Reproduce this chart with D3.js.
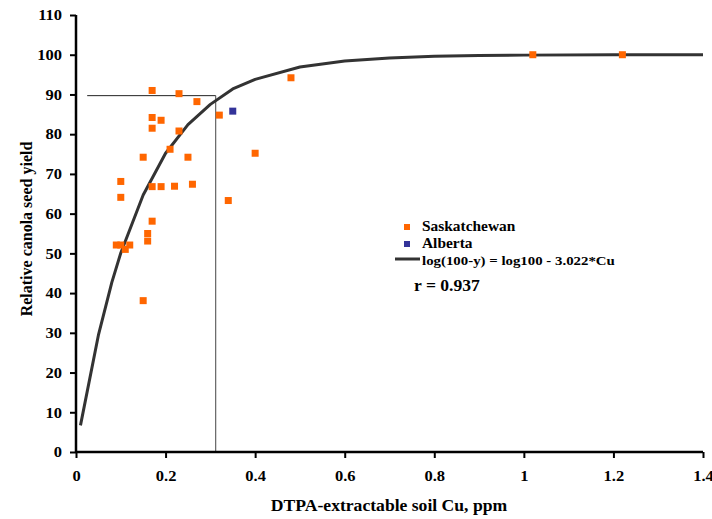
<!DOCTYPE html>
<html>
<head>
<meta charset="utf-8">
<script src="https://cdn.jsdelivr.net/npm/d3@7"></script>
<style>
  html, body { margin: 0; padding: 0; background: #fff; }
  svg text { font-family: "Liberation Serif", "Times New Roman", serif; font-weight: bold; fill: #000; }
</style>
</head>
<body>
<div id="chart"></div>
<script>
// Saskatchewan field sites: DTPA Cu (ppm) and relative yield (%)
const saskCu = [0.17, 0.23, 0.27, 0.48, 0.32, 0.17, 0.19, 0.17, 0.23, 0.21, 0.15, 0.25, 0.40,
                0.10, 0.17, 0.19, 0.22, 0.26, 0.10, 0.34, 0.17, 0.16, 0.16, 0.09, 0.10, 0.12, 0.11,
                0.15, 1.02, 1.22];
const saskYield = [91.0, 90.2, 88.2, 94.2, 84.8, 84.2, 83.5, 81.5, 80.8, 76.2, 74.2, 74.2, 75.2,
                   68.1, 66.8, 66.8, 66.9, 67.4, 64.1, 63.3, 58.1, 55.0, 53.1, 52.1, 52.1, 52.1, 51.0,
                   38.1, 100.0, 100.0];
// Alberta site
const albertaCu = [0.35];
const albertaYield = [85.8];
// Fitted curve log(100-y) = log100 - 3.022*Cu, evaluated at the plotted vertices
const fitCu = [0.01, 0.05, 0.08, 0.10, 0.15, 0.20, 0.25, 0.30, 0.35, 0.40, 0.50, 0.60, 0.70, 0.80, 0.90, 1.00, 1.20, 1.40];
const fitYield = [6.7, 29.4, 42.7, 50.1, 64.7, 75.2, 82.4, 87.5, 91.4, 93.8, 96.9, 98.4, 99.2, 99.6, 99.8, 99.9, 100.0, 100.0];
// Critical level guide lines
const criticalCu = 0.312;
const criticalYield = 89.7;
const guideStartCu = 0.025;
// Axis ticks
const xTicks = [0, 0.2, 0.4, 0.6, 0.8, 1.0, 1.2, 1.4];
const yTicks = [0, 10, 20, 30, 40, 50, 60, 70, 80, 90, 100, 110];
const legendLabels = ["Saskatchewan", "Alberta", "log(100-y) = log100 - 3.022*Cu"];
const rLabel = "r = 0.937";

const W = 712, H = 519;
const margin = { left: 76, right: 9, top: 15, bottom: 67 };
const widen = 1.1; // horizontal stretch applied to upright text
const svg = d3.select("#chart").append("svg").attr("width", W).attr("height", H);

const x = d3.scaleLinear().domain([0, 1.4]).range([margin.left, W - margin.right]);
const y = d3.scaleLinear().domain([0, 110]).range([H - margin.bottom, margin.top]);

const orange = "#ff6600", blue = "#333399";

function stretch(sel) {
  sel.each(function () {
    const len = this.getComputedTextLength();
    d3.select(this).attr("textLength", len * widen).attr("lengthAdjust", "spacingAndGlyphs");
  });
}

// Guide lines for the critical level
svg.append("line")
  .attr("x1", x(guideStartCu)).attr("x2", x(criticalCu))
  .attr("y1", y(criticalYield)).attr("y2", y(criticalYield))
  .attr("stroke", "#222").attr("stroke-width", 1);
svg.append("line")
  .attr("x1", x(criticalCu)).attr("x2", x(criticalCu))
  .attr("y1", y(criticalYield)).attr("y2", y(0))
  .attr("stroke", "#444").attr("stroke-width", 1);

// Fitted curve
svg.append("path")
  .datum(fitCu.map((c, i) => [c, fitYield[i]]))
  .attr("fill", "none").attr("stroke", "#333").attr("stroke-width", 3)
  .attr("stroke-linejoin", "round")
  .attr("d", d3.line().x(d => x(d[0])).y(d => y(d[1])));

// Markers
const ms = 7;
function drawPoints(cu, yl, color) {
  svg.append("g").selectAll("rect")
    .data(cu.map((c, i) => [c, yl[i]]))
    .join("rect")
    .attr("x", d => x(d[0]) - ms / 2).attr("y", d => y(d[1]) - ms / 2)
    .attr("width", ms).attr("height", ms)
    .attr("fill", color);
}
drawPoints(saskCu, saskYield, orange);
drawPoints(albertaCu, albertaYield, blue);

// Axes
const xAxis = svg.append("g").attr("transform", `translate(0,${y(0)})`)
  .call(d3.axisBottom(x).tickValues(xTicks).tickSize(6).tickPadding(12)
    .tickFormat(d => d3.format("~g")(d)));
const yAxis = svg.append("g").attr("transform", `translate(${x(0)},0)`)
  .call(d3.axisLeft(y).tickValues(yTicks).tickSize(6).tickPadding(8));
[xAxis, yAxis].forEach(g => {
  g.select(".domain").attr("stroke", "#000").attr("stroke-width", 2.5);
  g.selectAll(".tick line").attr("stroke", "#000").attr("stroke-width", 2);
  g.selectAll(".tick text").style("font-size", "15px")
    .style("font-family", "'Liberation Serif', serif").style("font-weight", "bold").attr("fill", "#000")
    .call(stretch);
});
xAxis.select(".domain").attr("d", `M${x(0)},0H${x(1.4)}`);
yAxis.select(".domain").attr("d", `M0,${y(110)}V${y(0)}`);

// Axis titles
svg.append("text").attr("x", 389).attr("y", 511).attr("text-anchor", "middle")
  .style("font-size", "16px").text("DTPA-extractable soil Cu, ppm").call(stretch);
svg.append("text").attr("transform", `translate(32,${229}) rotate(-90)`).attr("text-anchor", "middle")
  .style("font-size", "16px").text("Relative canola seed yield");

// Legend
const lg = svg.append("g");
lg.append("rect").attr("x", 404).attr("y", 224).attr("width", 6).attr("height", 6).attr("fill", orange);
lg.append("text").attr("x", 422).attr("y", 231).style("font-size", "14px").text(legendLabels[0]).call(stretch);
lg.append("rect").attr("x", 404).attr("y", 241).attr("width", 6).attr("height", 6).attr("fill", blue);
lg.append("text").attr("x", 422).attr("y", 248).style("font-size", "14px").text(legendLabels[1]).call(stretch);
lg.append("line").attr("x1", 395).attr("x2", 420).attr("y1", 259).attr("y2", 259)
  .attr("stroke", "#333").attr("stroke-width", 3);
lg.append("text").attr("x", 422).attr("y", 265).style("font-size", "13.5px").text(legendLabels[2]).call(stretch);
svg.append("text").attr("x", 414).attr("y", 291).style("font-size", "16px").text(rLabel).call(stretch);
</script>
</body>
</html>
